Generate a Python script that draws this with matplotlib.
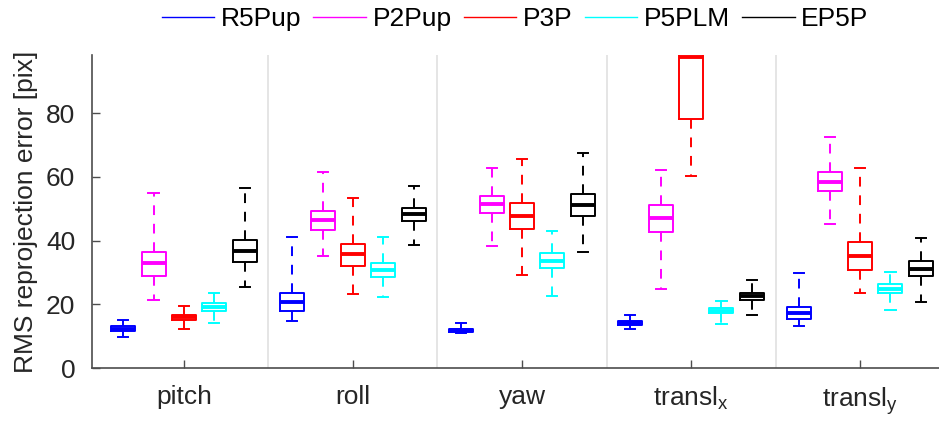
import matplotlib
matplotlib.use("Agg")
import matplotlib.pyplot as plt
from matplotlib.lines import Line2D

plt.rcParams['font.family'] = ['Liberation Sans', 'DejaVu Sans']

# Motion components on the x axis
categories = ["pitch", "roll", "yaw", r"transl$_\mathregular{x}$", r"transl$_\mathregular{y}$"]
methods = ["R5Pup", "P2Pup", "P3P", "P5PLM", "EP5P"]
colors = ["#0000ff", "#ff00ff", "#ff0000", "#00ffff", "#000000"]

# Box statistics per method: [lower whisker, Q1, median, Q3, upper whisker] for each category
r5pup = [
    [9.8, 11.6, 12.3, 13.2, 15.1],
    [14.9, 17.8, 20.8, 23.6, 41.2],
    [10.9, 11.3, 11.9, 12.3, 14.0],
    [12.2, 13.5, 14.1, 14.8, 16.5],
    [13.3, 15.5, 17.4, 19.2, 29.9],
]
p2pup = [
    [21.3, 29.0, 32.9, 36.5, 54.8],
    [35.2, 43.3, 46.5, 49.4, 61.6],
    [38.3, 48.6, 51.4, 54.1, 62.9],
    [24.8, 42.8, 47.0, 51.2, 62.0],
    [45.3, 55.4, 58.5, 61.5, 72.4],
]
p3p = [
    [12.3, 15.1, 15.9, 16.6, 19.6],
    [23.1, 32.1, 35.7, 39.0, 53.2],
    [29.2, 43.6, 47.7, 51.7, 65.7],
    [60.1, 78.2, 97.7, 106.0, 118.0],
    [23.6, 30.8, 35.2, 39.4, 62.6],
]
p5plm = [
    [14.2, 18.0, 19.0, 20.3, 23.6],
    [22.2, 28.5, 30.8, 32.8, 41.0],
    [22.7, 31.3, 33.7, 36.0, 43.0],
    [13.8, 17.2, 18.0, 18.9, 21.0],
    [18.2, 23.5, 24.9, 26.3, 30.0],
]
ep5p = [
    [25.4, 33.2, 36.7, 40.2, 56.6],
    [38.7, 46.1, 48.2, 50.2, 57.1],
    [36.5, 47.7, 51.1, 54.5, 67.4],
    [16.5, 21.2, 22.5, 23.6, 27.6],
    [20.8, 28.9, 31.2, 33.6, 40.7],
]
series = [r5pup, p2pup, p3p, p5plm, ep5p]

fig = plt.figure(figsize=(9.39, 4.24), dpi=100)
ax = fig.add_axes([92 / 939, 56 / 424, 847 / 939, 313 / 424])

offsets = [-0.36, -0.18, 0.0, 0.18, 0.36]
box_w = 0.142
text_col = "#262626"

for m, (stats_m, col, off) in enumerate(zip(series, colors, offsets)):
    stats = []
    for s in stats_m:
        stats.append(dict(whislo=s[0], q1=s[1], med=s[2], q3=s[3], whishi=s[4], fliers=[]))
    pos = [i + 1 + off for i in range(len(categories))]
    ax.bxp(stats, positions=pos, widths=box_w, capwidths=box_w * 0.42,
           showfliers=False, manage_ticks=False,
           boxprops=dict(color=col, linewidth=1.4),
           medianprops=dict(color=col, linewidth=2.8, solid_capstyle='butt'),
           whiskerprops=dict(color=col, linewidth=1.4, linestyle=(0, (5.0, 4.5))),
           capprops=dict(color=col, linewidth=1.4))

# Group separators
for xs in [1.5, 2.5, 3.5, 4.5]:
    ax.axvline(xs, color="#e0e0e0", linewidth=1.2, zorder=0)

ax.set_xlim(0.456, 5.467)
ax.set_ylim(0, 98.2)
ax.set_xticks(range(1, len(categories) + 1))
ax.set_xticklabels(categories)
ax.set_yticks([0, 20, 40, 60, 80])

for side in ["top", "right"]:
    ax.spines[side].set_visible(False)
for side in ["left", "bottom"]:
    ax.spines[side].set_color("#4d4d4d")
    ax.spines[side].set_linewidth(1.2)

ax.tick_params(direction="in", length=6, width=1.0, color="#4d4d4d",
               labelsize=19, labelcolor=text_col)
ax.tick_params(axis="x", pad=12)
ax.tick_params(axis="y", pad=12)
ax.set_ylabel("RMS reprojection error [pix]", fontsize=19, color=text_col, labelpad=6)

handles = [Line2D([0], [0], color=c, linewidth=1.0) for c in colors]
fig.legend(handles, methods, loc="center", bbox_to_anchor=(515 / 939, 1 - 19 / 424),
           ncol=5, frameon=False, fontsize=19, handlelength=2.0, handletextpad=0.25,
           columnspacing=0.45, borderaxespad=0)

fig.savefig("out.png", dpi=100)
